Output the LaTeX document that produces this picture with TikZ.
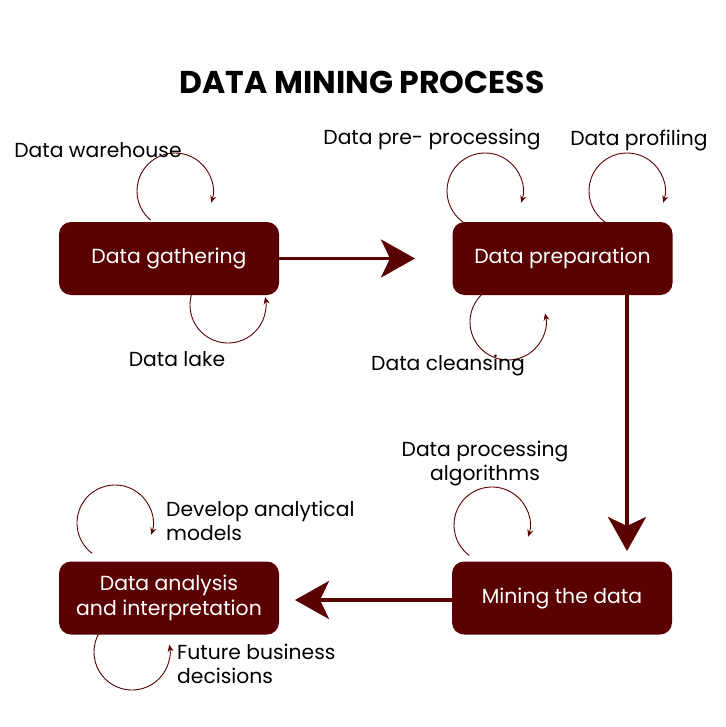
\documentclass[tikz,border=0pt]{standalone}
\usepackage{fontspec}
\setmainfont{Poppins}
\usetikzlibrary{arrows.meta,calc}
\definecolor{maroon}{RGB}{90,0,0}
\begin{document}
\begin{tikzpicture}[x=1pt,y=1pt,
  stagebox/.style={rectangle, rounded corners=12pt, fill=maroon, text=white,
    minimum width=220pt, minimum height=73pt, align=center,
    font=\fontsize{20.4}{25}\selectfont},
  lbl/.style={font=\fontsize{20.3}{24}\selectfont, text=black, inner sep=0pt, yshift=-2pt},
  flow/.style={draw=maroon, line width=3.5pt, -{Stealth[length=34pt,width=38pt,inset=9pt]}},
  selfloop/.style={draw=maroon, line width=0.9pt, -{Stealth[length=7pt,width=6pt]}},
  ]
\useasboundingbox (0,0) rectangle (725,-727);
\node[font=\bfseries\fontsize{31.5}{34}\selectfont] (title) at (362,-82) {DATA MINING PROCESS};

\node[stagebox] (g) at (169,-258.5) {\raisebox{-2pt}{Data gathering}};
\node[stagebox] (p) at (562.5,-258.5) {\raisebox{-2pt}{Data preparation}};
\node[stagebox] (m) at (562,-598) {\raisebox{-2pt}{Mining the data}};
\node[stagebox] (a) at (169,-598) {Data analysis\\and interpretation};

\coordinate (t1) at (415,-258.5);
\coordinate (t2) at (627,-551);
\coordinate (t3) at (295,-600);
\draw[flow] (g.east) -- (t1);
\draw[flow] (p.south -| t2) -- (t2);
\draw[flow] (m.west |- t3) -- (t3);

% loop centers
\coordinate (c1) at (175,-191);
\coordinate (c2) at (228,-305);
\coordinate (c3) at (485,-191);
\coordinate (c4) at (627,-191);
\coordinate (c5) at (508,-322);
\coordinate (c6) at (492,-525);
\coordinate (c7) at (115,-523);
\coordinate (c8) at (132,-652);

\draw[selfloop] ([shift={(230:38)}]c1) arc[start angle=230,end angle=-18,radius=38];
\draw[selfloop] ([shift={(164:38)}]c2) arc[start angle=164,end angle=372,radius=38];
\draw[selfloop] ([shift={(235:38)}]c3) arc[start angle=235,end angle=-18,radius=38];
\draw[selfloop] ([shift={(235:38)}]c4) arc[start angle=235,end angle=-18,radius=38];
\draw[selfloop] ([shift={(133:38)}]c5) arc[start angle=133,end angle=373,radius=38];
\draw[selfloop] ([shift={(233:38)}]c6) arc[start angle=233,end angle=-18,radius=38];
\draw[selfloop] ([shift={(233:38)}]c7) arc[start angle=233,end angle=-18,radius=38];
\draw[selfloop] ([shift={(152:38)}]c8) arc[start angle=152,end angle=371,radius=38];

\node[lbl] (l1) at (98,-148) {Data warehouse};
\node[lbl] (l2) at (177,-357) {Data lake};
\node[lbl] (l3) at (432,-138) {Data pre- processing};
\node[lbl] (l4) at (639,-138) {Data profiling};
\node[lbl] (l5) at (448,-364) {Data cleansing};
\node[lbl, align=center] (l6) at (485,-462) {Data processing\\algorithms};
\node[lbl, align=left, anchor=west] (l7) at (166,-519) {Develop analytical\\models};
\node[lbl, align=left, anchor=west] (l8) at (177,-662) {Future business\\decisions};
\end{tikzpicture}
\end{document}
